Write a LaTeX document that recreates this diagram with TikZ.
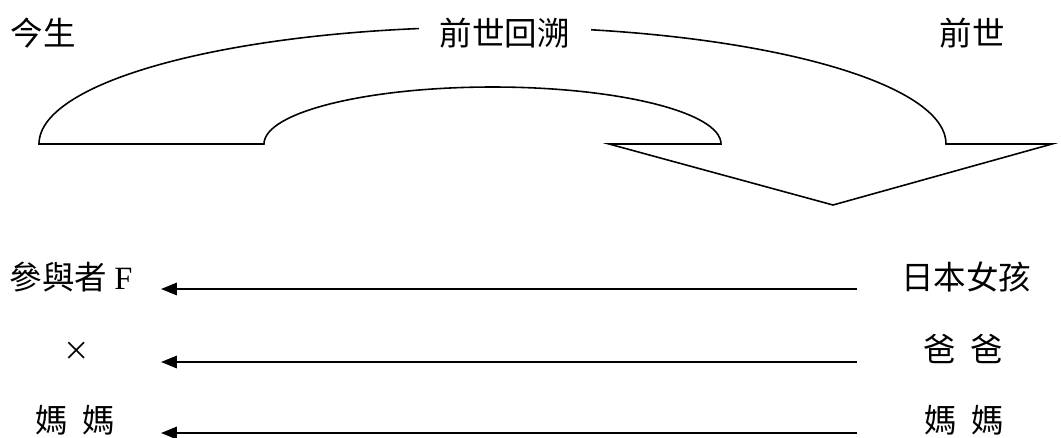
\documentclass[tikz,border=0pt]{standalone}
\usepackage{fontspec}
\usepackage{tikz}
\usetikzlibrary{arrows.meta}
\setmainfont{Liberation Serif}
\newfontfamily\cjk{Noto Sans CJK TC}

\begin{document}
\begin{tikzpicture}[x=0.02cm,y=-0.02cm,
  lbl/.style={font=\cjk\fontsize{18.5}{22}\selectfont, inner sep=0pt},
  back/.style={black, line width=1.2pt, -{Triangle[length=9pt,width=7pt]}}]

\useasboundingbox (0,0) rectangle (1061,437);

% curved arrow from now to the past
\draw[black, line width=0.9pt, line join=miter] (39,144)
  .. controls (39,79.4) and (242,27) .. (492.5,27)
  .. controls (743,27) and (946,79.4) .. (946,144)
  -- (1052,144) -- (833,205) -- (609,144) -- (721,144)
  .. controls (721,112.5) and (618.7,87) .. (492.5,87)
  .. controls (366.3,87) and (264,112.5) .. (264,144) -- cycle;

\node[lbl, fill=white, inner xsep=0.42cm, inner ysep=3pt] (title) at (504.5,33) {前世回溯};
\node[lbl] (now) at (43,33) {今生};
\node[lbl] (past) at (972,33) {前世};

\node[lbl] (f) at (71,277) {參與者 {\rmfamily F}};
\node[lbl, font=\cjk\fontsize{15}{18}\selectfont] (cross) at (77,351) {×};
\node[lbl] (mom) at (75,420) {媽\hspace{0.45em}媽};

\node[lbl] (girl) at (966,277) {日本女孩};
\node[lbl] (dad) at (963,349) {爸\hspace{0.45em}爸};
\node[lbl] (mom2) at (964,420) {媽\hspace{0.45em}媽};

\coordinate (girl-out) at (857,289);
\coordinate (f-in) at (161,289);
\coordinate (dad-out) at (857,362);
\coordinate (cross-in) at (161,362);
\coordinate (mom2-out) at (857,433);
\coordinate (mom-in) at (161,433);

\draw[back] (girl-out) -- (f-in);
\draw[back] (dad-out) -- (cross-in);
\draw[back] (mom2-out) -- (mom-in);

\end{tikzpicture}
\end{document}
